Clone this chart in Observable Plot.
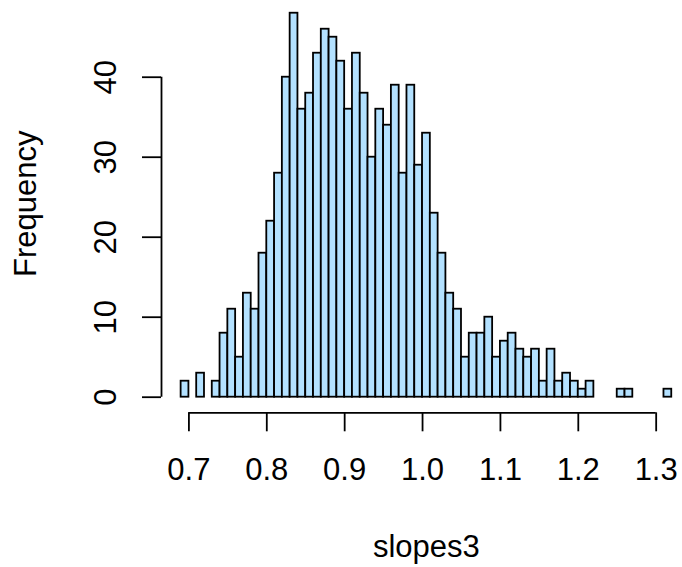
<!DOCTYPE html>
<html>
<head>
<meta charset="utf-8">
<script src="https://cdn.jsdelivr.net/npm/d3@7"></script>
<script src="https://cdn.jsdelivr.net/npm/@observablehq/plot@0.6"></script>
<style>
  html, body { margin: 0; padding: 0; background: #ffffff; }
  #chart svg { display: block; }
</style>
</head>
<body>
<div id="chart"></div>
<script>
// Histogram bin starts (bin width 0.01)
const binStarts = [
  0.69, 0.70, 0.71, 0.72, 0.73, 0.74, 0.75, 0.76, 0.77, 0.78, 0.79,
  0.80, 0.81, 0.82, 0.83, 0.84, 0.85, 0.86, 0.87, 0.88, 0.89,
  0.90, 0.91, 0.92, 0.93, 0.94, 0.95, 0.96, 0.97, 0.98, 0.99,
  1.00, 1.01, 1.02, 1.03, 1.04, 1.05, 1.06, 1.07, 1.08, 1.09,
  1.10, 1.11, 1.12, 1.13, 1.14, 1.15, 1.16, 1.17, 1.18, 1.19,
  1.20, 1.21, 1.22, 1.23, 1.24, 1.25, 1.26, 1.27, 1.28, 1.29,
  1.30, 1.31
];
const counts = [
  2, 0, 3, 0, 2, 8, 11, 5, 13, 11, 18,
  22, 28, 40, 48, 36, 38, 43, 46, 45, 42,
  36, 43, 38, 30, 36, 34, 39, 28, 39, 29,
  33, 23, 18, 13, 11, 5, 8, 8, 10, 5,
  7, 8, 6, 5, 6, 2, 6, 2, 3, 2,
  1, 2, 0, 0, 0, 1, 1, 0, 0, 0,
  0, 1
];
const binWidth = 0.01;
const xTicks = [0.7, 0.8, 0.9, 1.0, 1.1, 1.2, 1.3];
const yTicks = [0, 10, 20, 30, 40];
const xLabel = "slopes3";
const yLabel = "Frequency";

const bins = binStarts.map((x0, i) => ({
  x1: x0,
  x2: Math.round((x0 + binWidth) * 100) / 100,
  count: counts[i]
}));

const xDomain = [0.6648, 1.3338];
const yDomain = [-1.95, 49.59];
const fs = 31;

const chart = Plot.plot({
  width: 682,
  height: 567,
  marginLeft: 161,
  marginRight: 0,
  marginTop: 0,
  marginBottom: 154.7,
  x: { domain: xDomain },
  y: { domain: yDomain },
  style: { fontFamily: "'Liberation Sans', Arial, Helvetica, sans-serif", fontSize: fs + "px", background: "#ffffff", color: "#000000", overflow: "visible" },
  marks: [
    Plot.rectY(bins, { x1: "x1", x2: "x2", y1: 0, y2: "count", fill: "#B3E1FF", stroke: "#000000", strokeWidth: 1.8, inset: 0 }),
    // x axis line from first to last tick
    Plot.ruleY([yDomain[0]], { x1: xTicks[0], x2: xTicks[xTicks.length - 1], stroke: "#000000", strokeWidth: 1.8 }),
    Plot.axisX(xTicks, { tickSize: 19, tickPadding: 26, tickFormat: d3.format(".1f"), fontSize: fs, label: null, stroke: "#000000", fill: "#000000", strokeWidth: 1.8 }),
    // y axis line from first to last tick
    Plot.ruleX([xDomain[0]], { y1: yTicks[0], y2: yTicks[yTicks.length - 1], stroke: "#000000", strokeWidth: 1.8 }),
    Plot.axisY(yTicks, { tickSize: 19, fill: "none", label: null, stroke: "#000000", strokeWidth: 1.8 }),
    Plot.text(yTicks, { y: d => d, text: d => String(d), frameAnchor: "left", dx: -46, rotate: -90, lineAnchor: "bottom", textAnchor: "middle", fontSize: fs, fill: "#000000" }),
    Plot.text([yLabel], { text: d => d, frameAnchor: "left", dx: -126, dy: -3, rotate: -90, lineAnchor: "bottom", textAnchor: "middle", fontSize: fs, fill: "#000000" }),
    Plot.text([xLabel], { text: d => d, frameAnchor: "bottom", dx: 4.3, dy: 143.7, lineAnchor: "bottom", textAnchor: "middle", fontSize: fs, fill: "#000000" })
  ]
});
document.getElementById("chart").appendChild(chart);
</script>
</body>
</html>
